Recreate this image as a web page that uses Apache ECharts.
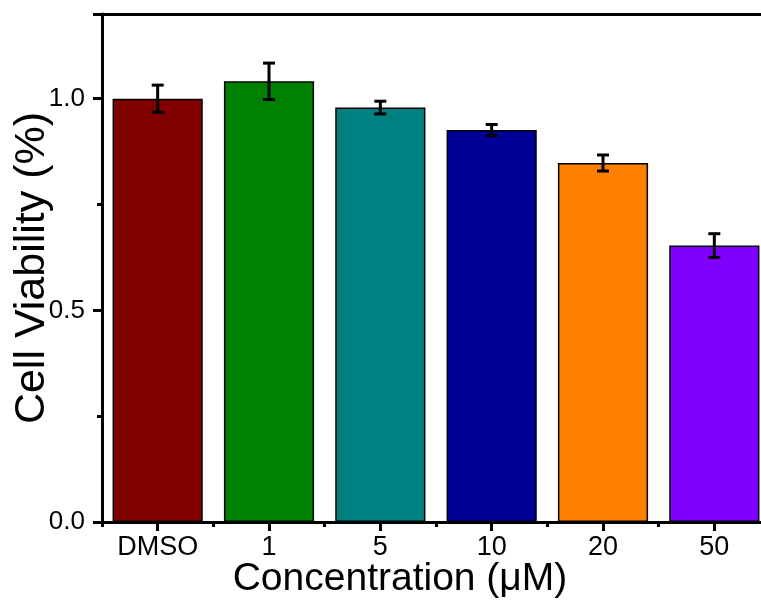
<!DOCTYPE html>
<html>
<head>
<meta charset="utf-8">
<script src="https://cdn.jsdelivr.net/npm/echarts@6/dist/echarts.min.js"></script>
<style>
  html, body { margin: 0; padding: 0; background: #fff; }
  #chart { width: 761px; height: 603px; }
</style>
</head>
<body>
<div id="chart"></div>
<script>
// ── Data ─────────────────────────────────────────────────────────────────
const categories = ['DMSO', '1', '5', '10', '20', '50'];
const viability  = [1.000, 1.041, 0.979, 0.926, 0.848, 0.653];
const errors     = [0.032, 0.043, 0.015, 0.013, 0.019, 0.028];
const barColors  = ['#800000', '#008000', '#008080', '#000099', '#FF8000', '#8000FF'];
const yTicks     = [0.0, 0.5, 1.0];

const FONT = 'Liberation Sans, Arial, sans-serif';

const chart = echarts.init(document.getElementById('chart'), null, { renderer: 'canvas' });

// error bars: vertical whisker + caps, drawn via the value axis
function renderErrorBar(params, api) {
  const idx = api.value(0);
  const lo = api.coord([idx, api.value(1)]);
  const hi = api.coord([idx, api.value(2)]);
  const half = 6;
  const style = { stroke: '#000', lineWidth: 3 };
  return {
    type: 'group',
    children: [
      { type: 'line', shape: { x1: hi[0], y1: hi[1], x2: lo[0], y2: lo[1] }, style },
      { type: 'line', shape: { x1: hi[0] - half, y1: hi[1], x2: hi[0] + half, y2: hi[1] }, style },
      { type: 'line', shape: { x1: lo[0] - half, y1: lo[1], x2: lo[0] + half, y2: lo[1] }, style },
    ],
  };
}

const axisLine = { show: true, lineStyle: { color: '#000', width: 3 } };

chart.setOption({
  backgroundColor: '#fff',
  animation: false,
  grid: { left: 102, right: -9, top: 14, bottom: 81, outerBoundsMode: 'none', containLabel: false },
  xAxis: [
    {
      type: 'category',
      data: categories,
      position: 'bottom',
      axisLine,
      axisTick: { show: true, alignWithLabel: true, length: 9, lineStyle: { width: 3, color: '#000' } },
      axisLabel: { color: '#000', fontFamily: FONT, fontSize: 27, margin: 12 },
      name: 'Concentration (\u03BCM)',
      nameLocation: 'middle',
      nameMoveOverlap: false,
      nameGap: 38,
      nameTextStyle: { color: '#000', fontFamily: FONT, fontSize: 39, padding: [0, 72, 0, 0] },
    },
    {
      // boundary (minor) ticks between categories
      type: 'category',
      data: categories,
      position: 'bottom',
      axisLine: { show: false },
      axisTick: { show: true, length: 5, lineStyle: { width: 3, color: '#000' } },
      axisLabel: { show: false },
    },
    {
      // top frame line
      type: 'category',
      data: categories,
      position: 'top',
      axisLine,
      axisTick: { show: false },
      axisLabel: { show: false },
    },
  ],
  yAxis: {
    type: 'value',
    min: 0,
    max: 1.2,
    interval: 0.5,
    axisLine,
    axisTick: { show: true, length: 9, lineStyle: { width: 3, color: '#000' } },
    minorTick: { show: true, splitNumber: 2, length: 5, lineStyle: { width: 3, color: '#000' } },
    splitLine: { show: false },
    axisLabel: {
      color: '#000', fontFamily: FONT, fontSize: 26, margin: 17,
      formatter: (v) => (yTicks.includes(v) ? v.toFixed(1) : ''),
    },
    name: 'Cell Viability (%)',
    nameLocation: 'middle',
    nameMoveOverlap: false,
    nameGap: 48,
    nameTextStyle: { color: '#000', fontFamily: FONT, fontSize: 43 },
  },
  series: [
    {
      type: 'bar',
      xAxisIndex: 0,
      barCategoryGap: '19%',
      data: viability.map((v, i) => ({
        value: v,
        itemStyle: { color: barColors[i], borderColor: '#000', borderWidth: 1.5 },
      })),
    },
    {
      type: 'custom',
      xAxisIndex: 0,
      renderItem: renderErrorBar,
      z: 10,
      data: viability.map((v, i) => [i, v - errors[i], v + errors[i]]),
    },
  ],
});
</script>
</body>
</html>
